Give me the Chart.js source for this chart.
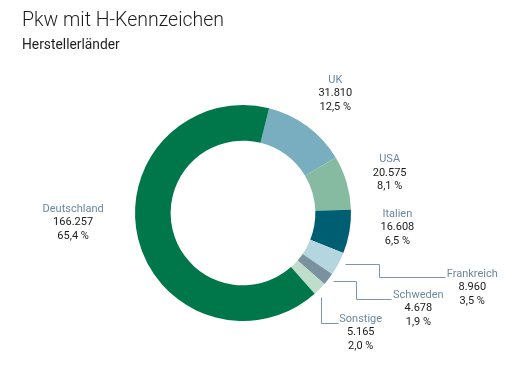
<!DOCTYPE html>
<html>
<head>
<meta charset="utf-8">
<script src="https://cdn.jsdelivr.net/npm/chart.js@4"></script>
<style>
  html, body { margin: 0; padding: 0; background: #fff; }
  #wrap { position: relative; width: 522px; height: 369px; }
  #title { position: absolute; left: 22px; top: 8px; font-family: Roboto, "Liberation Sans", sans-serif; font-weight: 300; font-size: 19.5px; color: #1e1e1e; white-space: nowrap; }
  #subtitle { position: absolute; left: 22px; top: 36px; font-family: Roboto, "Liberation Sans", sans-serif; font-weight: 400; font-size: 13.8px; color: #1e1e1e; white-space: nowrap; }
  canvas { position: absolute; left: 0; top: 0; }
</style>
</head>
<body>
<div id="wrap">
  <canvas id="c" width="522" height="369"></canvas>
  <div id="title">Pkw mit H-Kennzeichen</div>
  <div id="subtitle">Herstellerländer</div>
</div>
<script>
const categories = ["UK", "USA", "Italien", "Frankreich", "Schweden", "Sonstige", "Deutschland"];
const counts = [31810, 20575, 16608, 8960, 4678, 5165, 166257];
const countLabels = ["31.810", "20.575", "16.608", "8.960", "4.678", "5.165", "166.257"];
const percentLabels = ["12,5 %", "8,1 %", "6,5 %", "3,5 %", "1,9 %", "2,0 %", "65,4 %"];
const colors = ["#78AEBF", "#86BBA1", "#005E72", "#B3D6DF", "#7A929F", "#BEDDCB", "#00774A"];

// label placement relative to each slice's outer mid-point (style only)
const labelStyle = [
  { dx: 28, dy: -46 },
  { dx: 43, dy: -23 },
  { dx: 48, dy: -18 },
  { dx: 134, dy: 10, leader: [[7, 0], [41, 0], [41, 13], [107, 13]] },
  { dx: 90, dy: 16, leader: [[5, 2], [28, 2], [28, 20], [63, 20]] },
  { dx: 41, dy: 30, leader: [[1, 8], [1, 34], [18, 34]] },
  { dx: -65, dy: -30 }
];

const labelPlugin = {
  id: 'sliceLabels',
  afterDraw(chart) {
    const ctx = chart.ctx;
    const meta = chart.getDatasetMeta(0);
    ctx.save();
    meta.data.forEach((arc, i) => {
      const p = arc.getProps(['x', 'y', 'startAngle', 'endAngle', 'outerRadius'], true);
      const mid = (p.startAngle + p.endAngle) / 2;
      const ax = p.x + Math.cos(mid) * p.outerRadius;
      const ay = p.y + Math.sin(mid) * p.outerRadius;
      const s = labelStyle[i];
      if (s.leader) {
        ctx.beginPath();
        ctx.strokeStyle = '#7D96AA';
        ctx.lineWidth = 1;
        s.leader.forEach((pt, k) => {
          const X = Math.round(ax + pt[0]) + 0.5, Y = Math.round(ay + pt[1]) + 0.5;
          if (k === 0) ctx.moveTo(X, Y); else ctx.lineTo(X, Y);
        });
        ctx.stroke();
      }
      const lx = ax + s.dx, ly = ay + s.dy;
      ctx.textAlign = 'center';
      ctx.textBaseline = 'middle';
      ctx.font = '400 11px Roboto, "Liberation Sans", sans-serif';
      ctx.fillStyle = '#6B88A0';
      ctx.fillText(categories[i], lx, ly);
      ctx.fillStyle = '#1a1a1a';
      ctx.fillText(countLabels[i], lx, ly + 13.5);
      ctx.fillText(percentLabels[i], lx, ly + 27);
    });
    ctx.restore();
  }
};

new Chart(document.getElementById('c'), {
  type: 'doughnut',
  data: {
    labels: categories,
    datasets: [{
      data: counts,
      backgroundColor: colors,
      borderWidth: 0
    }]
  },
  options: {
    responsive: false,
    animation: false,
    rotation: 14,
    cutout: '67%',
    layout: { padding: { left: 135, right: 171, top: 105, bottom: 48 } },
    plugins: { legend: { display: false }, tooltip: { enabled: false }, title: { display: false } }
  },
  plugins: [labelPlugin]
});
</script>
</body>
</html>
